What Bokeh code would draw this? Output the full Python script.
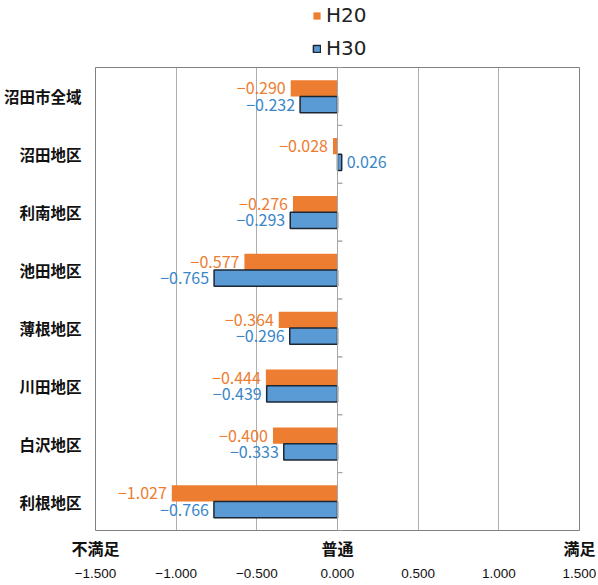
from bokeh.plotting import figure
from bokeh.layouts import column
from bokeh.models import (FactorRange, Range1d, FixedTicker, LinearAxis, Legend,
                          LegendItem, ColumnDataSource, Span)
from bokeh.transform import dodge
from bokeh.core.properties import value
from bokeh.embed import file_html
from bokeh.resources import INLINE

# ---- data ----
categories = ["沼田市全域", "沼田地区", "利南地区", "池田地区",
              "薄根地区", "川田地区", "白沢地区", "利根地区"]
h20 = [-0.290, -0.028, -0.276, -0.577, -0.364, -0.444, -0.400, -1.027]
h30 = [-0.232, 0.026, -0.293, -0.765, -0.296, -0.439, -0.333, -0.766]
series_names = ["H20", "H30"]
x_ticks = [-1.5, -1.0, -0.5, 0.0, 0.5, 1.0, 1.5]
x_tick_labels = ["−1.500", "−1.000", "−0.500", "0.000", "0.500", "1.000", "1.500"]
scale_ticks = [-1.5, 0.0, 1.5]
scale_labels = ["不満足", "普通", "満足"]

ORANGE = "#ED7D31"
BLUE = "#5B9BD5"
OUTLINE = "#1d2733"
JP = "Noto Sans CJK JP"
W = 596


def fmt(v):
    return ("−" if v < 0 else "") + f"{abs(v):.3f}"


src = ColumnDataSource(dict(cat=categories, h20=h20, h30=h30))

p = figure(width=W, height=518,
           y_range=FactorRange(factors=categories[::-1]),
           x_range=Range1d(x_ticks[0], x_ticks[-1]),
           x_axis_location=None,
           output_backend="svg", toolbar_location=None,
           min_border_left=88, min_border_right=17,
           min_border_top=1, min_border_bottom=54)

p.outline_line_color = "#808080"
p.outline_line_width = 1
p.xgrid.ticker = FixedTicker(ticks=x_ticks)
p.xgrid.grid_line_color = "#b0b0b0"
p.ygrid.visible = False

# zero line with category-boundary ticks
p.add_layout(Span(location=0, dimension="height", line_color="#a6a6a6", line_width=1))
for off in (-0.5, 0.5):
    p.segment(x0=0, x1=0.03, y0=dodge("cat", off, range=p.y_range),
              y1=dodge("cat", off, range=p.y_range), line_color="#a6a6a6",
              line_width=1, source=src)

p.hbar(y=dodge("cat", 0.14, range=p.y_range), left=0, right="h20",
       height=0.28, fill_color=ORANGE, line_color=None, source=src)
p.hbar(y=dodge("cat", -0.14, range=p.y_range), left=0, right="h30",
       height=0.28, fill_color=BLUE, line_color=OUTLINE, line_width=1.5,
       source=src)

# value labels: negatives to the left of the bar end, positives to the right
for vals, yoff, col in ((h20, 0.14, ORANGE), (h30, -0.14, "#3a86c8")):
    for is_neg, align, xo in ((True, "right", -5), (False, "left", 5)):
        sel = [i for i, v in enumerate(vals) if (v < 0) == is_neg]
        s = ColumnDataSource(dict(cat=[categories[i] for i in sel],
                                  v=[vals[i] for i in sel],
                                  t=[fmt(vals[i]) for i in sel]))
        p.text(x="v", y=dodge("cat", yoff, range=p.y_range), text="t",
               text_align=align, x_offset=xo, text_baseline="middle",
               text_color=col, text_font=value(JP), text_font_size="16px", source=s)

# category axis
ya = p.yaxis[0]
ya.axis_line_color = None
ya.major_tick_line_color = None
ya.minor_tick_line_color = None
ya.major_label_text_font = JP
ya.major_label_text_font_style = "bold"
ya.major_label_text_font_size = "15.5px"
ya.major_label_text_color = "#111111"
ya.major_label_standoff = 8

# bottom axes: scale words then numbers
ax_words = LinearAxis(ticker=FixedTicker(ticks=scale_ticks),
                      major_label_overrides=dict(zip(scale_ticks, scale_labels)),
                      axis_line_color=None, major_tick_line_color=None,
                      minor_tick_line_color=None, major_tick_out=0,
                      major_label_standoff=5, major_label_text_font=JP,
                      major_label_text_font_style="bold",
                      major_label_text_font_size="16px",
                      major_label_text_color="#111111")
ax_nums = LinearAxis(ticker=FixedTicker(ticks=x_ticks),
                     major_label_overrides=dict(zip(x_ticks, x_tick_labels)),
                     axis_line_color=None, major_tick_line_color=None,
                     minor_tick_line_color=None, major_tick_out=0,
                     major_label_standoff=6, major_label_text_font="Liberation Sans",
                     major_label_text_font_size="13.5px",
                     major_label_text_color="#111111")
p.add_layout(ax_words, "below")
p.add_layout(ax_nums, "below")

# legend strip above the chart
lg = figure(width=W, height=66, x_range=p.x_range, y_range=p.y_range,
            x_axis_location=None, y_axis_location=None,
            output_backend="svg", toolbar_location=None, min_border=0)
lg.outline_line_color = None
lg.grid.visible = False
k20 = lg.hbar(y="cat", left=0, right="h20", height=0.28, fill_color=ORANGE,
              line_color=None, source=src, visible=False)
k30 = lg.hbar(y="cat", left=0, right="h30", height=0.28, fill_color=BLUE,
              line_color=OUTLINE, line_width=1.5, source=src, visible=False)
legend = Legend(items=[LegendItem(label=series_names[0], renderers=[k20]),
                       LegendItem(label=series_names[1], renderers=[k30])],
                orientation="vertical", location=(217, 6),
                label_text_font="DejaVu Sans", label_text_font_size="20px",
                label_text_color="#222222",
                glyph_width=9, glyph_height=9, label_standoff=5,
                label_height=20, spacing=9, padding=0, margin=0,
                border_line_color=None, background_fill_alpha=0,
                inactive_fill_alpha=0)
lg.add_layout(legend, "center")

open("out.html", "w").write(file_html(column(lg, p, spacing=0), INLINE))
